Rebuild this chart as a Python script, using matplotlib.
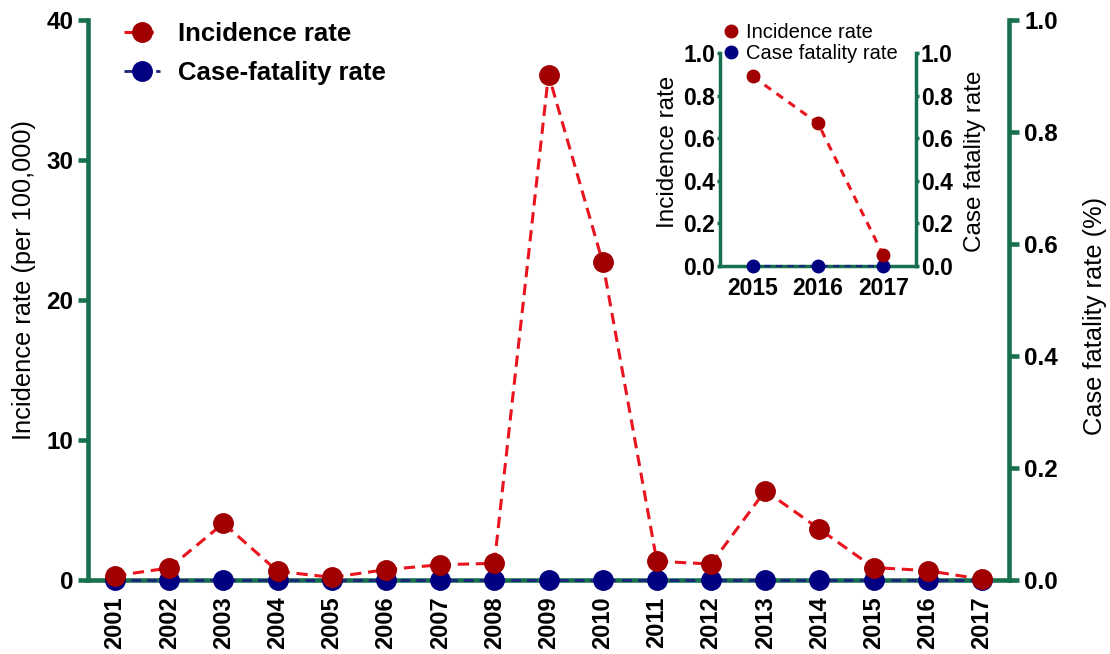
import matplotlib
matplotlib.use("Agg")
import matplotlib.pyplot as plt

plt.rcParams['font.family'] = ['Liberation Sans', 'DejaVu Sans']

years = [2001, 2002, 2003, 2004, 2005, 2006, 2007, 2008, 2009,
         2010, 2011, 2012, 2013, 2014, 2015, 2016, 2017]
incidence = [0.3, 0.86, 4.05, 0.62, 0.19, 0.74, 1.09, 1.19, 36.1,
             22.7, 1.34, 1.14, 6.38, 3.64, 0.89, 0.67, 0.05]
fatality = [0.0] * 17

inset_years = [2015, 2016, 2017]
inset_incidence = [0.89, 0.67, 0.05]
inset_fatality = [0.0, 0.0, 0.0]

main_left_ticks = [0, 10, 20, 30, 40]
rate_ticks = [0, 0.2, 0.4, 0.6, 0.8, 1.0]
rate_labels = ['0.0', '0.2', '0.4', '0.6', '0.8', '1.0']

GREEN = '#17704e'
RED_M = '#a00000'
RED_L = '#e8141e'
BLUE_M = '#000080'
BLUE_L = '#1a237e'

W, H = 1110, 654
fig = plt.figure(figsize=(W / 100, H / 100), dpi=100)

ax = fig.add_axes([88 / W, (H - 580) / H, (1009 - 88) / W, (580 - 20) / H])
ax2 = ax.twinx()

ax.set_xlim(2000.5, 2017.5)
ax.set_ylim(0, 40)
ax2.set_ylim(0, 1.0)

l2, = ax.plot(years, fatality, ls='--', color=BLUE_L, lw=2, marker='o', ms=14,
              mfc=BLUE_M, mec=BLUE_M, clip_on=False, zorder=5, dashes=(3.5, 2.2))
l1, = ax.plot(years, incidence, ls='--', color=RED_L, lw=2.2, marker='o', ms=14,
              mfc=RED_M, mec=RED_M, clip_on=False, zorder=6, dashes=(3.7, 2.2))
ax.set_zorder(ax2.get_zorder() + 1)
ax.patch.set_visible(False)

for a in (ax, ax2):
    a.spines['top'].set_visible(False)
    for s in ('left', 'right', 'bottom'):
        a.spines[s].set_color(GREEN)
        a.spines[s].set_linewidth(3.3)
ax.spines['right'].set_visible(False)
ax2.spines['left'].set_visible(False)
ax2.spines['bottom'].set_visible(False)

ax.set_yticks(main_left_ticks)
ax.set_yticklabels([str(v) for v in main_left_ticks], fontsize=17.5, fontweight='bold')
ax.tick_params(axis='y', direction='out', length=7, width=3.3, color=GREEN, pad=3.5)
ax.set_xticks(years)
ax.set_xticklabels([str(y) for y in years], rotation=90, fontsize=17, fontweight='bold')
ax.tick_params(axis='x', length=0, pad=12)

ax2.set_yticks(rate_ticks)
ax2.set_yticklabels(rate_labels, fontsize=17.5, fontweight='bold')
ax2.tick_params(axis='y', direction='out', length=7, width=3.3, color=GREEN, pad=4)

ax.set_ylabel('Incidence rate (per 100,000)', fontsize=18.3)
ax.yaxis.set_label_coords((24 - 88) / 921, (580 - 280) / 560)
ax.yaxis.label.set_va('center')
ax2.set_ylabel('Case fatality rate (%)', fontsize=18.3, rotation=90)
ax2.yaxis.set_label_coords((1095 - 88) / 921, (580 - 316) / 560)
ax2.yaxis.label.set_va('center')

leg = ax.legend([l1, l2], ['Incidence rate', 'Case-fatality rate'],
                loc='upper left', bbox_to_anchor=(124 / W, 1 - 22 / H),
                bbox_transform=fig.transFigure, frameon=False,
                prop={'size': 18.5, 'weight': 'bold'}, handlelength=1.4,
                handletextpad=0.7, labelspacing=0.58, borderpad=0, borderaxespad=0)

# inset
ins = fig.add_axes([720 / W, (H - 266) / H, (916 - 720) / W, (266 - 53) / H])
ins2 = ins.twinx()
ins.set_xlim(2014.5, 2017.5)
ins.set_ylim(0, 1.0)
ins2.set_ylim(0, 1.0)
i2, = ins.plot(inset_years, inset_fatality, ls='--', color=BLUE_L, lw=1.5, marker='o',
               ms=9, mfc=BLUE_M, mec=BLUE_M, clip_on=False, zorder=5, dashes=(3, 2.5))
i1, = ins.plot(inset_years, inset_incidence, ls='--', color=RED_L, lw=2.2, marker='o',
               ms=9, mfc=RED_M, mec=RED_M, clip_on=False, zorder=6, dashes=(2.6, 2.2))
ins.set_zorder(ins2.get_zorder() + 1)
ins.patch.set_visible(False)
for a in (ins, ins2):
    a.spines['top'].set_visible(False)
    for s in ('left', 'right', 'bottom'):
        a.spines[s].set_color(GREEN)
        a.spines[s].set_linewidth(2.5)
ins.spines['right'].set_visible(False)
ins2.spines['left'].set_visible(False)
ins2.spines['bottom'].set_visible(False)

ins.set_yticks(rate_ticks)
ins.set_yticklabels(rate_labels, fontsize=16.5, fontweight='bold')
ins2.set_yticks(rate_ticks)
ins2.set_yticklabels(rate_labels, fontsize=16.5, fontweight='bold')
ins.tick_params(axis='y', direction='out', length=2.5, width=2.5, color=GREEN, pad=1)
ins2.tick_params(axis='y', direction='out', length=2.5, width=2.5, color=GREEN, pad=1)
ins.set_xticks(inset_years)
ins.set_xticklabels([str(y) for y in inset_years], fontsize=16.5, fontweight='bold')
ins.tick_params(axis='x', length=0, pad=8)
ins.set_ylabel('Incidence rate', fontsize=17.5)
ins.yaxis.set_label_coords((668 - 720) / 196, (266 - 152) / 213)
ins.yaxis.label.set_va('center')
ins2.set_ylabel('Case fatality rate', fontsize=17.5)
ins2.yaxis.set_label_coords((975 - 720) / 196, (266 - 161) / 213)
ins2.yaxis.label.set_va('center')

ins.legend([i1, i2], ['Incidence rate', 'Case fatality rate'], loc='upper left',
           bbox_to_anchor=(725 / W, 1 - 23 / H), bbox_transform=fig.transFigure,
           frameon=False, prop={'size': 14.5}, handlelength=0.6, handletextpad=0.45,
           labelspacing=0.1, borderpad=0, borderaxespad=0)
for h in ins.get_legend().legend_handles:
    h.set_linestyle('none')

fig.savefig('out.png', dpi=100)
